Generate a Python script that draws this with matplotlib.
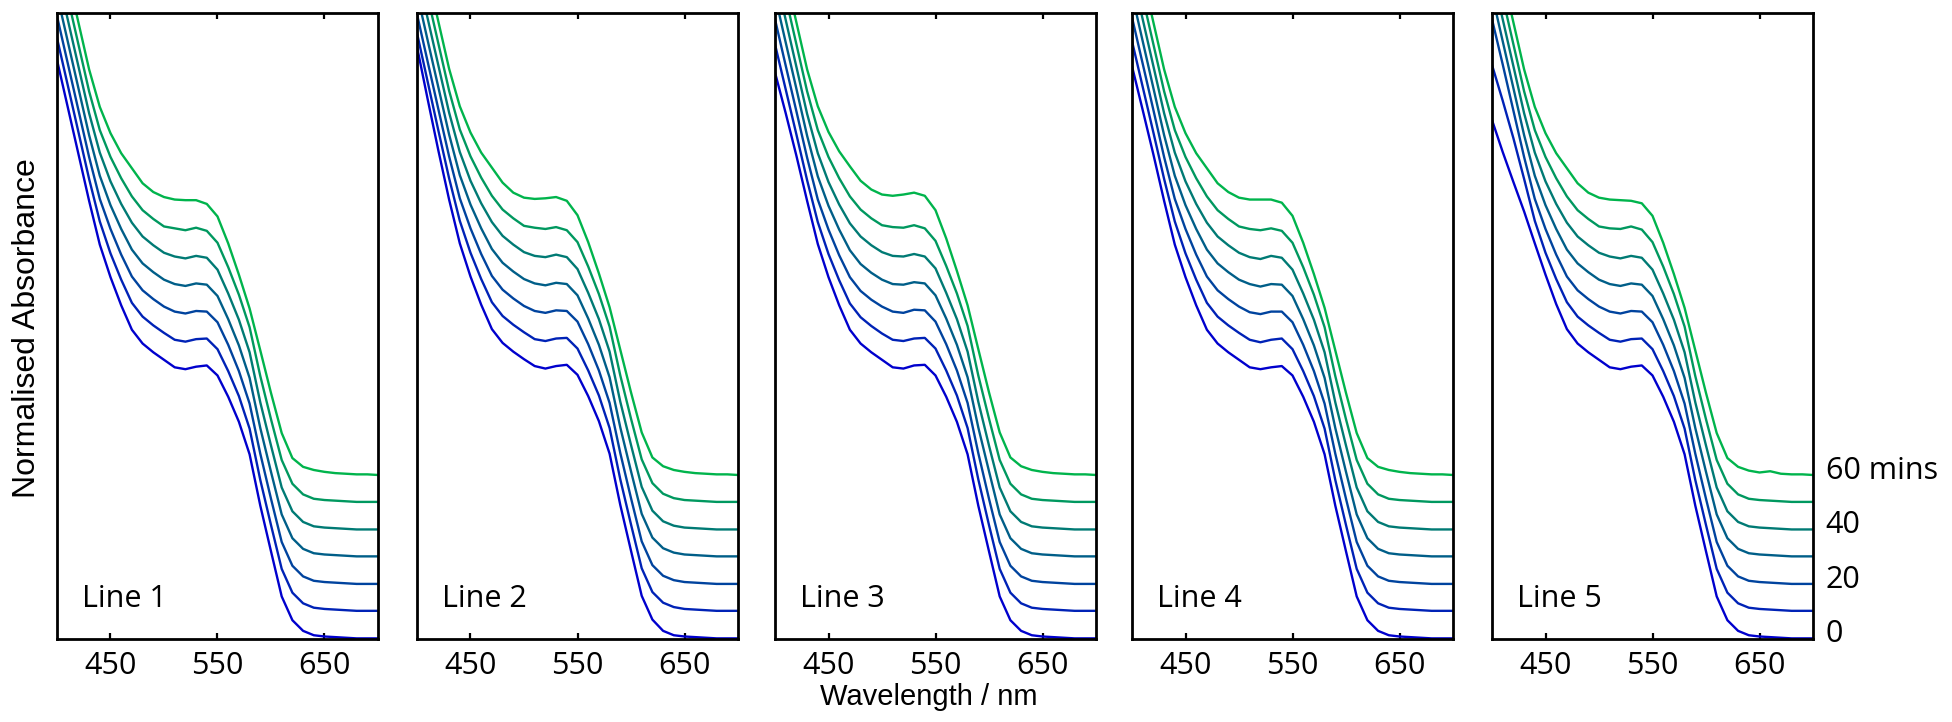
import matplotlib
matplotlib.use("Agg")
import matplotlib.pyplot as plt
from matplotlib.transforms import blended_transform_factory

# ---------------- data ----------------
wavelength = [400, 410, 420, 430, 440, 450, 460, 470, 480, 490, 500,
              510, 520, 530, 540, 550, 560, 570, 580, 590, 600,
              610, 620, 630, 640, 650, 660, 670, 680, 690, 700]

time_labels = ["0", "10", "20", "30", "40", "50", "60"]
right_labels = {"60": "60 mins", "40": "40", "20": "20", "0": "0"}
panel_names = ["Line 1", "Line 2", "Line 3", "Line 4", "Line 5"]
x_ticks = [450, 550, 650]

# Line 1
l1_0 = [0.925, 0.850, 0.775, 0.700, 0.630, 0.578, 0.533, 0.494, 0.472, 0.458, 0.446, 0.434, 0.431, 0.435, 0.437, 0.421, 0.387, 0.347, 0.295, 0.213, 0.140, 0.068, 0.030, 0.013, 0.006, 0.004, 0.003, 0.002, 0.001, 0.001, 0.001]
l1_10 = [0.960, 0.885, 0.810, 0.735, 0.667, 0.616, 0.574, 0.537, 0.515, 0.501, 0.489, 0.478, 0.475, 0.479, 0.480, 0.463, 0.428, 0.388, 0.336, 0.254, 0.182, 0.112, 0.074, 0.057, 0.050, 0.048, 0.047, 0.046, 0.045, 0.045, 0.045]
l1_20 = [0.995, 0.920, 0.845, 0.770, 0.703, 0.655, 0.614, 0.579, 0.557, 0.543, 0.531, 0.523, 0.520, 0.524, 0.523, 0.506, 0.470, 0.428, 0.376, 0.296, 0.224, 0.155, 0.117, 0.100, 0.093, 0.091, 0.090, 0.089, 0.088, 0.088, 0.088]
l1_30 = [1.030, 0.955, 0.880, 0.805, 0.740, 0.693, 0.655, 0.622, 0.600, 0.586, 0.574, 0.567, 0.564, 0.568, 0.566, 0.548, 0.511, 0.469, 0.417, 0.337, 0.267, 0.199, 0.161, 0.144, 0.137, 0.135, 0.134, 0.133, 0.132, 0.132, 0.132]
l1_40 = [1.065, 0.990, 0.915, 0.840, 0.777, 0.731, 0.695, 0.665, 0.643, 0.629, 0.617, 0.611, 0.608, 0.612, 0.609, 0.590, 0.552, 0.510, 0.458, 0.378, 0.309, 0.242, 0.204, 0.187, 0.180, 0.178, 0.177, 0.176, 0.175, 0.175, 0.175]
l1_50 = [1.100, 1.025, 0.950, 0.875, 0.813, 0.770, 0.736, 0.707, 0.685, 0.671, 0.659, 0.656, 0.653, 0.657, 0.652, 0.633, 0.594, 0.550, 0.498, 0.420, 0.351, 0.286, 0.248, 0.231, 0.224, 0.222, 0.221, 0.220, 0.219, 0.219, 0.219]
l1_60 = [1.135, 1.060, 0.985, 0.910, 0.850, 0.808, 0.776, 0.752, 0.728, 0.714, 0.706, 0.702, 0.701, 0.701, 0.695, 0.675, 0.632, 0.582, 0.528, 0.461, 0.393, 0.329, 0.289, 0.275, 0.270, 0.267, 0.265, 0.264, 0.263, 0.263, 0.262]

# Line 2
l2_0 = [0.946, 0.862, 0.780, 0.702, 0.632, 0.579, 0.534, 0.495, 0.473, 0.459, 0.447, 0.436, 0.432, 0.436, 0.438, 0.422, 0.388, 0.348, 0.296, 0.214, 0.141, 0.069, 0.031, 0.013, 0.006, 0.004, 0.003, 0.002, 0.001, 0.001, 0.001]
l2_10 = [0.968, 0.890, 0.812, 0.736, 0.668, 0.617, 0.575, 0.538, 0.516, 0.502, 0.490, 0.479, 0.476, 0.480, 0.481, 0.464, 0.429, 0.389, 0.337, 0.255, 0.183, 0.113, 0.075, 0.058, 0.051, 0.048, 0.047, 0.046, 0.045, 0.045, 0.045]
l2_20 = [0.998, 0.922, 0.846, 0.771, 0.704, 0.656, 0.615, 0.580, 0.558, 0.544, 0.532, 0.524, 0.521, 0.525, 0.524, 0.507, 0.471, 0.429, 0.377, 0.297, 0.225, 0.156, 0.118, 0.101, 0.094, 0.091, 0.090, 0.089, 0.088, 0.088, 0.088]
l2_30 = [1.032, 0.956, 0.881, 0.806, 0.741, 0.694, 0.656, 0.623, 0.601, 0.587, 0.575, 0.568, 0.565, 0.569, 0.567, 0.549, 0.512, 0.470, 0.418, 0.338, 0.268, 0.200, 0.162, 0.145, 0.138, 0.135, 0.134, 0.133, 0.132, 0.132, 0.132]
l2_40 = [1.066, 0.991, 0.916, 0.841, 0.778, 0.732, 0.696, 0.666, 0.644, 0.630, 0.618, 0.612, 0.610, 0.614, 0.610, 0.591, 0.553, 0.511, 0.459, 0.379, 0.310, 0.243, 0.205, 0.188, 0.181, 0.178, 0.177, 0.176, 0.175, 0.175, 0.175]
l2_50 = [1.101, 1.026, 0.951, 0.876, 0.814, 0.771, 0.737, 0.708, 0.686, 0.672, 0.660, 0.657, 0.655, 0.658, 0.653, 0.634, 0.595, 0.551, 0.499, 0.421, 0.352, 0.287, 0.249, 0.232, 0.225, 0.222, 0.221, 0.220, 0.219, 0.219, 0.219]
l2_60 = [1.136, 1.061, 0.986, 0.911, 0.851, 0.809, 0.777, 0.753, 0.729, 0.713, 0.705, 0.703, 0.704, 0.706, 0.700, 0.677, 0.634, 0.584, 0.530, 0.462, 0.394, 0.330, 0.290, 0.276, 0.270, 0.267, 0.265, 0.264, 0.263, 0.263, 0.262]

# Line 3
l3_0 = [0.905, 0.840, 0.772, 0.700, 0.631, 0.578, 0.533, 0.494, 0.472, 0.458, 0.446, 0.434, 0.432, 0.437, 0.438, 0.421, 0.387, 0.347, 0.295, 0.213, 0.140, 0.068, 0.030, 0.013, 0.006, 0.004, 0.003, 0.002, 0.001, 0.001, 0.001]
l3_10 = [0.950, 0.878, 0.806, 0.733, 0.666, 0.615, 0.573, 0.536, 0.514, 0.500, 0.488, 0.478, 0.476, 0.480, 0.481, 0.464, 0.429, 0.389, 0.337, 0.255, 0.182, 0.112, 0.074, 0.057, 0.050, 0.048, 0.047, 0.046, 0.045, 0.045, 0.045]
l3_20 = [0.990, 0.916, 0.843, 0.769, 0.702, 0.654, 0.613, 0.578, 0.556, 0.542, 0.531, 0.523, 0.521, 0.526, 0.525, 0.507, 0.471, 0.429, 0.377, 0.297, 0.224, 0.155, 0.117, 0.100, 0.093, 0.091, 0.090, 0.089, 0.088, 0.088, 0.088]
l3_30 = [1.028, 0.953, 0.879, 0.804, 0.739, 0.692, 0.654, 0.621, 0.599, 0.585, 0.574, 0.567, 0.566, 0.570, 0.568, 0.549, 0.512, 0.470, 0.418, 0.338, 0.268, 0.199, 0.161, 0.144, 0.137, 0.135, 0.134, 0.133, 0.132, 0.132, 0.132]
l3_40 = [1.064, 0.989, 0.914, 0.839, 0.776, 0.730, 0.694, 0.664, 0.643, 0.629, 0.618, 0.612, 0.611, 0.615, 0.611, 0.592, 0.553, 0.511, 0.459, 0.379, 0.309, 0.242, 0.204, 0.187, 0.180, 0.178, 0.177, 0.176, 0.175, 0.175, 0.175]
l3_50 = [1.100, 1.025, 0.950, 0.875, 0.813, 0.770, 0.736, 0.707, 0.686, 0.672, 0.661, 0.658, 0.657, 0.661, 0.656, 0.636, 0.596, 0.552, 0.500, 0.421, 0.352, 0.286, 0.248, 0.231, 0.224, 0.222, 0.221, 0.220, 0.219, 0.219, 0.219]
l3_60 = [1.135, 1.060, 0.985, 0.910, 0.851, 0.810, 0.779, 0.755, 0.732, 0.718, 0.710, 0.708, 0.710, 0.713, 0.708, 0.685, 0.640, 0.588, 0.533, 0.463, 0.394, 0.330, 0.290, 0.276, 0.270, 0.267, 0.265, 0.264, 0.263, 0.263, 0.262]

# Line 4
l4_0 = [0.915, 0.845, 0.774, 0.700, 0.630, 0.578, 0.533, 0.494, 0.472, 0.458, 0.446, 0.434, 0.431, 0.434, 0.436, 0.421, 0.387, 0.347, 0.295, 0.213, 0.140, 0.068, 0.030, 0.013, 0.006, 0.004, 0.003, 0.002, 0.001, 0.001, 0.001]
l4_10 = [0.955, 0.882, 0.809, 0.735, 0.667, 0.616, 0.574, 0.537, 0.515, 0.501, 0.489, 0.478, 0.474, 0.478, 0.480, 0.463, 0.428, 0.388, 0.336, 0.254, 0.182, 0.112, 0.074, 0.057, 0.050, 0.048, 0.047, 0.046, 0.045, 0.045, 0.045]
l4_20 = [0.993, 0.919, 0.845, 0.770, 0.703, 0.655, 0.614, 0.579, 0.557, 0.543, 0.531, 0.522, 0.519, 0.523, 0.523, 0.506, 0.470, 0.428, 0.376, 0.296, 0.224, 0.155, 0.117, 0.100, 0.093, 0.091, 0.090, 0.089, 0.088, 0.088, 0.088]
l4_30 = [1.030, 0.955, 0.880, 0.805, 0.740, 0.693, 0.655, 0.622, 0.600, 0.586, 0.574, 0.567, 0.563, 0.567, 0.566, 0.548, 0.511, 0.469, 0.417, 0.337, 0.267, 0.199, 0.161, 0.144, 0.137, 0.135, 0.134, 0.133, 0.132, 0.132, 0.132]
l4_40 = [1.065, 0.990, 0.915, 0.840, 0.777, 0.731, 0.695, 0.665, 0.643, 0.629, 0.617, 0.610, 0.607, 0.612, 0.609, 0.590, 0.552, 0.510, 0.458, 0.378, 0.309, 0.242, 0.204, 0.187, 0.180, 0.178, 0.177, 0.176, 0.175, 0.175, 0.175]
l4_50 = [1.100, 1.025, 0.950, 0.875, 0.813, 0.770, 0.736, 0.707, 0.685, 0.671, 0.659, 0.655, 0.653, 0.656, 0.652, 0.633, 0.594, 0.550, 0.498, 0.420, 0.351, 0.286, 0.248, 0.231, 0.224, 0.222, 0.221, 0.220, 0.219, 0.219, 0.219]
l4_60 = [1.135, 1.060, 0.985, 0.910, 0.850, 0.808, 0.776, 0.752, 0.728, 0.714, 0.705, 0.702, 0.702, 0.702, 0.697, 0.676, 0.633, 0.583, 0.529, 0.461, 0.393, 0.329, 0.289, 0.275, 0.270, 0.267, 0.265, 0.264, 0.263, 0.263, 0.262]

# Line 5
l5_0 = [0.829, 0.778, 0.730, 0.683, 0.632, 0.582, 0.535, 0.495, 0.472, 0.458, 0.446, 0.434, 0.431, 0.435, 0.437, 0.421, 0.387, 0.347, 0.295, 0.213, 0.140, 0.068, 0.030, 0.013, 0.006, 0.004, 0.003, 0.002, 0.001, 0.001, 0.001]
l5_10 = [0.917, 0.860, 0.800, 0.735, 0.668, 0.617, 0.575, 0.538, 0.515, 0.501, 0.489, 0.478, 0.475, 0.479, 0.480, 0.463, 0.428, 0.388, 0.336, 0.254, 0.182, 0.112, 0.074, 0.057, 0.050, 0.048, 0.047, 0.046, 0.045, 0.045, 0.045]
l5_20 = [0.990, 0.918, 0.844, 0.770, 0.703, 0.655, 0.614, 0.579, 0.557, 0.543, 0.531, 0.523, 0.520, 0.524, 0.523, 0.506, 0.470, 0.428, 0.376, 0.296, 0.224, 0.155, 0.117, 0.100, 0.093, 0.091, 0.090, 0.089, 0.088, 0.088, 0.088]
l5_30 = [1.030, 0.955, 0.880, 0.805, 0.740, 0.693, 0.655, 0.622, 0.600, 0.586, 0.574, 0.567, 0.564, 0.568, 0.566, 0.548, 0.511, 0.469, 0.417, 0.337, 0.267, 0.199, 0.161, 0.144, 0.137, 0.135, 0.134, 0.133, 0.132, 0.132, 0.132]
l5_40 = [1.065, 0.990, 0.915, 0.840, 0.777, 0.731, 0.695, 0.665, 0.643, 0.629, 0.617, 0.611, 0.608, 0.612, 0.609, 0.590, 0.552, 0.510, 0.458, 0.378, 0.309, 0.242, 0.204, 0.187, 0.180, 0.178, 0.177, 0.176, 0.175, 0.175, 0.175]
l5_50 = [1.100, 1.025, 0.950, 0.875, 0.813, 0.770, 0.736, 0.707, 0.685, 0.671, 0.659, 0.656, 0.655, 0.659, 0.654, 0.634, 0.595, 0.551, 0.499, 0.420, 0.351, 0.286, 0.248, 0.231, 0.224, 0.222, 0.221, 0.220, 0.219, 0.219, 0.219]
l5_60 = [1.135, 1.060, 0.985, 0.910, 0.850, 0.808, 0.776, 0.752, 0.728, 0.713, 0.705, 0.702, 0.701, 0.700, 0.696, 0.676, 0.633, 0.583, 0.529, 0.461, 0.393, 0.329, 0.289, 0.275, 0.269, 0.266, 0.268, 0.264, 0.263, 0.263, 0.262]

panels = [
    [l1_0, l1_10, l1_20, l1_30, l1_40, l1_50, l1_60],
    [l2_0, l2_10, l2_20, l2_30, l2_40, l2_50, l2_60],
    [l3_0, l3_10, l3_20, l3_30, l3_40, l3_50, l3_60],
    [l4_0, l4_10, l4_20, l4_30, l4_40, l4_50, l4_60],
    [l5_0, l5_10, l5_20, l5_30, l5_40, l5_50, l5_60],
]

# ---------------- style ----------------
colors = ["#0000CD", "#0022B6", "#00439E", "#005E88", "#007A74", "#00985F", "#00B44C"]
W, H = 1952, 722
panel_left_px = [57, 417, 775, 1132, 1492]
panel_w_px = 321
panel_top_px, panel_bot_px = 13, 639

label_font = ["Open Sans", "DejaVu Sans"]
axis_font = ["Liberation Sans", "DejaVu Sans"]

fig = plt.figure(figsize=(W / 100, H / 100), dpi=100)

axes = []
for i, (curves, name) in enumerate(zip(panels, panel_names)):
    ax = fig.add_axes([panel_left_px[i] / W, 1 - panel_bot_px / H,
                       panel_w_px / W, (panel_bot_px - panel_top_px) / H])
    for vals, c in zip(curves, colors):
        ax.plot(wavelength, vals, color=c, lw=1.7, solid_joinstyle="round")
    ax.set_xlim(400, 700)
    ax.set_ylim(0, 1)
    ax.set_yticks([])
    ax.set_xticks(x_ticks)
    ax.set_xticklabels([str(t) for t in x_ticks], fontfamily=label_font, fontsize=22)
    ax.tick_params(axis="x", direction="in", top=True, length=4, width=1.6, pad=9, colors="black")
    for s in ax.spines.values():
        s.set_linewidth(2.0)
        s.set_color("black")
    ax.text(0.078, 0.051, name, transform=ax.transAxes, fontsize=22,
            fontfamily=label_font, ha="left", va="baseline")
    axes.append(ax)

# right-side time labels, aligned with the tail of each curve in the last panel
ax5 = axes[-1]
trans = blended_transform_factory(ax5.transAxes, ax5.transData)
for key, txt in right_labels.items():
    idx = time_labels.index(key)
    yv = panels[-1][idx][-1]
    ax5.text(1.04, yv + 0.007, txt, transform=trans, fontsize=22,
             fontfamily=label_font, ha="left", va="center", clip_on=False)

fig.text(929 / W, 1 - 697 / H, "Wavelength / nm", fontsize=21,
         fontfamily=axis_font, ha="center", va="center")
fig.text(27 / W, 1 - 328 / H, "Normalised Absorbance", fontsize=23,
         fontfamily=axis_font, ha="center", va="center", rotation=90)

fig.savefig("out.png", dpi=100)
